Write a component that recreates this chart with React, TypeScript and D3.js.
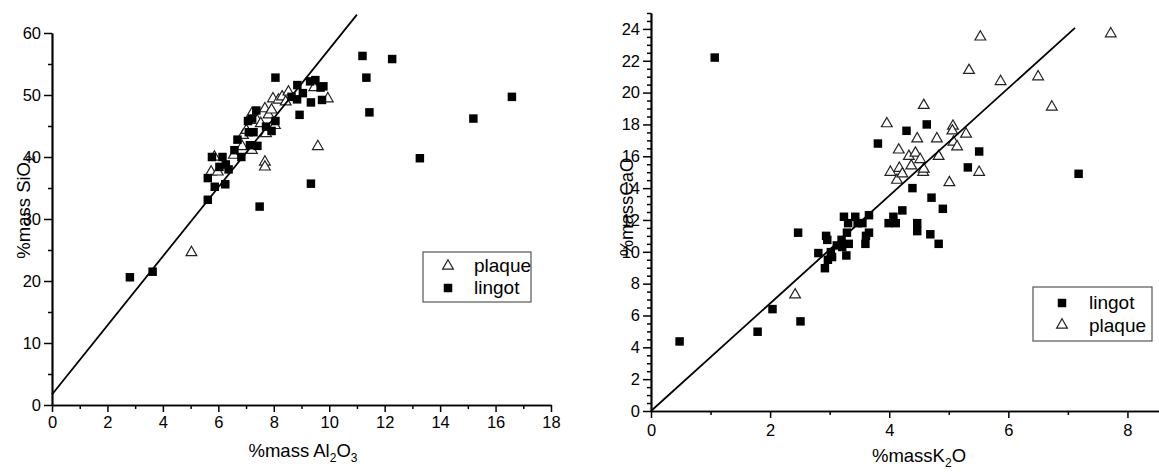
import React, { useEffect, useRef } from 'react'
import * as d3 from 'd3'

const width = 1159
const height = 472
const FONT = '"Liberation Sans", Arial, sans-serif'

// left panel: %mass Al2O3 (x) vs %mass SiO2 (y)
const lingotAl = [2.81, 3.63, 5.62, 5.62, 5.77, 5.87, 6.04, 6.15, 6.25, 6.27, 6.37, 6.58, 6.69, 6.83, 7.07, 7.10, 7.14, 7.22, 7.27, 7.37, 7.41, 7.49, 7.72, 7.92, 8.06, 8.06, 8.64, 8.85, 8.84, 8.93, 9.05, 9.31, 9.34, 9.34, 9.50, 9.69, 9.74, 9.79, 11.20, 11.34, 11.45, 12.27, 13.27, 15.20, 16.59]
const lingotSi = [20.6, 21.5, 33.1, 36.6, 40.0, 35.2, 38.4, 40.0, 35.6, 38.8, 38.0, 41.1, 42.8, 40.0, 45.8, 44.0, 41.9, 46.2, 44.0, 47.5, 41.8, 32.0, 44.9, 44.2, 52.8, 45.8, 49.7, 51.6, 49.3, 46.8, 50.3, 52.2, 48.8, 35.7, 52.4, 51.2, 49.2, 51.4, 56.3, 52.8, 47.2, 55.8, 39.8, 46.2, 49.7]
const plaqueAl = [5.03, 5.74, 5.98, 5.86, 6.56, 6.86, 6.89, 7.01, 7.21, 7.21, 7.40, 7.68, 7.68, 7.72, 7.68, 7.81, 7.97, 8.04, 8.17, 8.30, 8.43, 8.53, 9.59, 9.46, 9.95, 7.92, 7.53]
const plaqueSi = [24.6, 37.6, 37.6, 40.0, 40.3, 41.7, 43.5, 44.3, 41.1, 47.0, 45.9, 39.2, 38.4, 43.8, 47.8, 46.8, 49.4, 45.1, 49.2, 49.7, 48.9, 50.5, 41.7, 51.2, 49.4, 47.6, 45.4]
const fitLeft = { intercept: 1.7, slope: 5.57, xEnd: 11.0 }

// right panel: %mass K2O (x) vs %mass CaO (y)
const lingotK = [0.48, 1.07, 1.79, 2.04, 2.47, 2.51, 2.81, 2.92, 2.94, 2.96, 2.97, 3.02, 3.04, 3.12, 3.20, 3.21, 3.24, 3.28, 3.29, 3.31, 3.32, 3.43, 3.47, 3.55, 3.60, 3.61, 3.66, 3.66, 3.81, 3.99, 4.07, 4.11, 4.22, 4.29, 4.39, 4.47, 4.47, 4.63, 4.69, 4.71, 4.83, 4.90, 5.32, 5.51, 7.18]
const lingotCa = [4.37, 22.2, 4.98, 6.40, 11.2, 5.63, 9.92, 8.97, 11.0, 10.75, 9.50, 9.98, 9.67, 10.4, 10.75, 10.3, 12.2, 9.77, 11.2, 11.8, 10.5, 12.2, 11.8, 11.8, 10.5, 11.0, 11.2, 12.3, 16.8, 11.8, 12.2, 11.8, 12.6, 17.6, 14.0, 11.8, 11.3, 18.0, 11.1, 13.4, 10.5, 12.7, 15.3, 16.3, 14.9]
const plaqueK = [2.42, 3.96, 4.02, 4.13, 4.16, 4.17, 4.22, 4.33, 4.37, 4.44, 4.47, 4.52, 4.57, 4.58, 4.58, 4.80, 4.83, 5.01, 5.07, 5.08, 5.14, 5.29, 5.34, 5.51, 5.53, 5.87, 6.50, 6.73, 7.72, 5.06]
const plaqueCa = [7.30, 18.05, 15.0, 14.5, 16.4, 15.25, 14.9, 16.0, 15.4, 16.2, 17.1, 15.8, 15.0, 19.2, 15.2, 17.1, 16.0, 14.35, 17.9, 16.9, 16.6, 17.4, 21.4, 15.0, 23.5, 20.7, 21.0, 19.1, 23.7, 17.6]
const fitRight = { intercept: 0, slope: 3.38, xEnd: 7.12 }

const leftXTicks = [0, 2, 4, 6, 8, 10, 12, 14, 16, 18]
const leftYTicks = [0, 10, 20, 30, 40, 50, 60]
const rightXTicks = [0, 2, 4, 6, 8]
const rightYTicks = [0, 2, 4, 6, 8, 10, 12, 14, 16, 18, 20, 22, 24]

const square = d3.symbol(d3.symbolSquare, 72)()
const triangle = d3.symbol(d3.symbolTriangle, 50)()

function Axis({ axis, transform }: { axis: any; transform?: string }) {
  const ref = useRef<SVGGElement>(null)
  useEffect(() => {
    const g = d3.select(ref.current)
    g.selectAll('*').remove()
    g.call(axis)
    g.attr('font-size', null).attr('font-family', null)
    g.select('.domain').attr('stroke', '#000').attr('stroke-width', 1.7)
    g.selectAll('.tick line').attr('stroke', '#000').attr('stroke-width', 1.5)
    g.selectAll('.tick text').attr('font-size', 16.5).attr('font-family', FONT).attr('fill', '#000')
  }, [axis])
  return <g ref={ref} transform={transform} />
}

function Scatter({ xs, ys, x, y, shape }: any) {
  return (
    <g>
      {xs.map((v: number, i: number) => (
        <path key={i} d={shape === 'sq' ? square : triangle}
          transform={`translate(${x(v)},${y(ys[i])})`}
          fill={shape === 'sq' ? '#000' : '#fff'}
          stroke={shape === 'sq' ? 'none' : '#222'} strokeWidth={1.2} />
      ))}
    </g>
  )
}

export default function App() {
  // left
  const xL = d3.scaleLinear().domain([0, 18]).range([52, 551])
  const yL = d3.scaleLinear().domain([0, 60]).range([405, 33])
  // right
  const xR = d3.scaleLinear().domain([0, 9]).range([651, 1187])
  const yR = d3.scaleLinear().domain([0, 25]).range([411, 13])

  const line = d3.line<number>()
  const fitL = line([[xL(0), yL(fitLeft.intercept)], [xL(fitLeft.xEnd), yL(fitLeft.intercept + fitLeft.slope * fitLeft.xEnd)]] as any)
  const fitR = line([[xR(0), yR(fitRight.intercept)], [xR(fitRight.xEnd), yR(fitRight.intercept + fitRight.slope * fitRight.xEnd)]] as any)

  const noLabel = () => ''

  return (
    <svg width={width} height={height} style={{ position: 'absolute', left: 0, top: 0, background: '#fff' }}
      fontFamily={FONT} fill="#000">
      {/* left panel */}
      <Axis axis={d3.axisBottom(xL).tickValues(d3.range(1, 18, 2)).tickSize(4).tickSizeOuter(0).tickFormat(noLabel)} transform="translate(0,405)" />
      <Axis axis={d3.axisBottom(xL).tickValues(leftXTicks).tickSize(7).tickPadding(4).tickSizeOuter(0)} transform="translate(0,405)" />
      <Axis axis={d3.axisLeft(yL).tickValues(d3.range(5, 60, 10)).tickSize(4).tickSizeOuter(0).tickFormat(noLabel)} transform="translate(52,0)" />
      <Axis axis={d3.axisLeft(yL).tickValues(leftYTicks).tickSize(8).tickPadding(3).tickSizeOuter(0)} transform="translate(52,0)" />
      <Scatter xs={plaqueAl} ys={plaqueSi} x={xL} y={yL} shape="tri" />
      <Scatter xs={lingotAl} ys={lingotSi} x={xL} y={yL} shape="sq" />
      <path d={fitL || ''} stroke="#000" strokeWidth={1.8} fill="none" />
      <text x={303} y={457} textAnchor="middle" fontSize={18.5}>
        %mass Al<tspan fontSize={12} dy={5}>2</tspan><tspan dy={-5}>O</tspan><tspan fontSize={12} dy={5}>3</tspan>
      </text>
      <text transform="translate(30,207) rotate(-90)" textAnchor="middle" fontSize={18.5}>
        %mass SiO<tspan fontSize={12} dy={5}>2</tspan>
      </text>
      <rect x={423} y={252} width={108} height={50} fill="none" stroke="#555" strokeWidth={1.2} />
      <path d={triangle} transform="translate(448,266)" fill="#fff" stroke="#222" strokeWidth={1.2} />
      <path d={square} transform="translate(448,288)" fill="#000" />
      <text x={474} y={272} fontSize={19}>plaque</text>
      <text x={474} y={294} fontSize={19}>lingot</text>

      {/* right panel */}
      <Axis axis={d3.axisBottom(xR).tickValues(d3.range(1, 10, 2)).tickSize(4).tickSizeOuter(0).tickFormat(noLabel)} transform="translate(0,411)" />
      <Axis axis={d3.axisBottom(xR).tickValues(rightXTicks).tickSize(7).tickPadding(6).tickSizeOuter(0)} transform="translate(0,411)" />
      <Axis axis={d3.axisLeft(yR).tickValues(d3.range(0.5, 25.5, 0.5).filter(v => v % 2 !== 0)).tickSize(4).tickSizeOuter(0).tickFormat(noLabel)} transform="translate(651,0)" />
      <Axis axis={d3.axisLeft(yR).tickValues(rightYTicks).tickSize(8).tickPadding(3).tickSizeOuter(0)} transform="translate(651,0)" />
      <Scatter xs={plaqueK} ys={plaqueCa} x={xR} y={yR} shape="tri" />
      <Scatter xs={lingotK} ys={lingotCa} x={xR} y={yR} shape="sq" />
      <path d={fitR || ''} stroke="#000" strokeWidth={1.8} fill="none" />
      <text x={919} y={462} textAnchor="middle" fontSize={18.5}>
        %massK<tspan fontSize={12} dy={5}>2</tspan><tspan dy={-5}>O</tspan>
      </text>
      <text transform="translate(633,207) rotate(-90)" textAnchor="middle" fontSize={18.5}>%massCaO</text>
      <rect x={1033} y={287} width={119} height={54} fill="none" stroke="#555" strokeWidth={1.2} />
      <path d={square} transform="translate(1062,303)" fill="#000" />
      <path d={triangle} transform="translate(1062,325)" fill="#fff" stroke="#222" strokeWidth={1.2} />
      <text x={1089} y={309} fontSize={19}>lingot</text>
      <text x={1089} y={332} fontSize={19}>plaque</text>
    </svg>
  )
}
